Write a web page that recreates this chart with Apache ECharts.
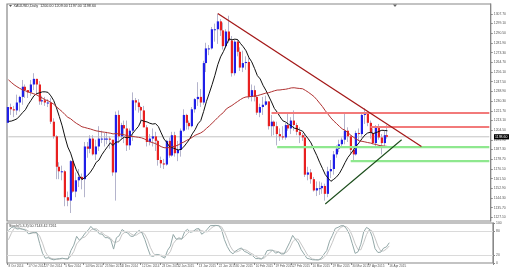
<!DOCTYPE html>
<html><head><meta charset="utf-8">
<script src="https://cdn.jsdelivr.net/npm/echarts@6/dist/echarts.min.js"></script>
<style>html,body{margin:0;padding:0;background:#fff}#c{width:509px;height:274px}</style>
</head><body><div id="c"></div>
<script>
// ---------- DATA ----------
const symbolTitle = 'XAUUSD,Daily';
const stochTitle = 'Stoch(5,3,3)';
const dates = [
'8 Oct 2014','9 Oct 2014','10 Oct 2014','13 Oct 2014','14 Oct 2014','15 Oct 2014','16 Oct 2014','17 Oct 2014','20 Oct 2014','21 Oct 2014','22 Oct 2014','23 Oct 2014','24 Oct 2014','27 Oct 2014','28 Oct 2014','29 Oct 2014','30 Oct 2014','31 Oct 2014',
'3 Nov 2014','4 Nov 2014','5 Nov 2014','6 Nov 2014','7 Nov 2014','10 Nov 2014','11 Nov 2014','12 Nov 2014','13 Nov 2014','14 Nov 2014','17 Nov 2014','18 Nov 2014','19 Nov 2014','20 Nov 2014','21 Nov 2014','24 Nov 2014','25 Nov 2014','26 Nov 2014','27 Nov 2014','28 Nov 2014',
'1 Dec 2014','2 Dec 2014','3 Dec 2014','4 Dec 2014','5 Dec 2014','8 Dec 2014','9 Dec 2014','10 Dec 2014','11 Dec 2014','12 Dec 2014','15 Dec 2014','16 Dec 2014','17 Dec 2014','18 Dec 2014','19 Dec 2014','22 Dec 2014','23 Dec 2014','24 Dec 2014','26 Dec 2014','29 Dec 2014','30 Dec 2014','31 Dec 2014',
'2 Jan 2015','5 Jan 2015','6 Jan 2015','7 Jan 2015','8 Jan 2015','9 Jan 2015','12 Jan 2015','13 Jan 2015','14 Jan 2015','15 Jan 2015','16 Jan 2015','19 Jan 2015','20 Jan 2015','21 Jan 2015','22 Jan 2015','23 Jan 2015','26 Jan 2015','27 Jan 2015','28 Jan 2015','29 Jan 2015','30 Jan 2015',
'2 Feb 2015','3 Feb 2015','4 Feb 2015','5 Feb 2015','6 Feb 2015','9 Feb 2015','10 Feb 2015','11 Feb 2015','12 Feb 2015','13 Feb 2015','16 Feb 2015','17 Feb 2015','18 Feb 2015','19 Feb 2015','20 Feb 2015','23 Feb 2015','24 Feb 2015','25 Feb 2015','26 Feb 2015','27 Feb 2015',
'2 Mar 2015','3 Mar 2015','4 Mar 2015','5 Mar 2015','6 Mar 2015','9 Mar 2015','10 Mar 2015','11 Mar 2015','12 Mar 2015','13 Mar 2015','16 Mar 2015','17 Mar 2015','18 Mar 2015','19 Mar 2015','20 Mar 2015','23 Mar 2015','24 Mar 2015','25 Mar 2015','26 Mar 2015','27 Mar 2015','30 Mar 2015','31 Mar 2015',
'1 Apr 2015','2 Apr 2015','3 Apr 2015','6 Apr 2015','7 Apr 2015','8 Apr 2015','9 Apr 2015','10 Apr 2015','13 Apr 2015','14 Apr 2015','15 Apr 2015','16 Apr 2015'];
const futureBars = 36;
// [open, high, low, close]
const candles = [
[1211,1226,1206,1225],[1225,1228,1218,1223],[1223,1226,1216,1222],[1222,1236,1218,1229],[1229,1235,1221,1234],[1234,1249,1227,1243],[1243,1245,1233,1240],[1240,1240,1233,1238],[1238,1249,1235,1245],[1245,1255,1240,1250],[1250,1250,1236,1245],[1245,1248,1227,1230],[1230,1235,1227,1231],[1231,1234,1226,1229],[1229,1232,1225,1229],[1229,1233,1210,1212],[1212,1215,1197,1199],[1199,1200,1161,1172],
[1172,1176,1161,1168],[1168,1173,1160,1168],[1168,1169,1137,1145],[1145,1150,1137,1142],[1142,1178,1131,1177],[1177,1178,1149,1150],[1150,1167,1145,1160],[1160,1170,1154,1163],[1163,1166,1152,1161],[1161,1194,1145,1190],[1190,1194,1180,1188],[1188,1200,1184,1197],[1197,1200,1182,1183],[1183,1196,1178,1190],[1190,1208,1186,1197],[1197,1204,1193,1197],[1197,1202,1190,1197],[1197,1203,1192,1197],[1197,1199,1188,1196],[1196,1196,1164,1167],
[1167,1221,1142,1218],[1218,1222,1193,1199],[1199,1211,1196,1209],[1209,1213,1193,1206],[1206,1213,1186,1191],[1191,1206,1187,1204],[1204,1238,1195,1231],[1231,1233,1222,1229],[1229,1232,1220,1225],[1225,1226,1210,1222],[1222,1226,1207,1207],[1207,1209,1190,1194],[1194,1201,1191,1197],[1197,1206,1190,1199],[1199,1203,1186,1195],[1195,1196,1173,1178],[1178,1181,1171,1175],[1175,1179,1170,1174],[1174,1196,1173,1195],[1195,1198,1180,1182],[1182,1203,1181,1200],[1200,1203,1181,1184],
[1184,1195,1177,1187],[1187,1206,1181,1204],[1204,1223,1203,1218],[1218,1219,1205,1211],[1211,1213,1205,1208],[1208,1225,1207,1223],[1223,1233,1220,1232],[1232,1247,1226,1234],[1234,1241,1225,1229],[1229,1266,1227,1264],[1264,1282,1256,1277],[1277,1280,1271,1277],[1277,1296,1276,1294],[1294,1299,1283,1294],[1294,1307.5,1281,1301],[1301,1303,1288,1293],[1293,1300,1276,1279],[1279,1294,1277,1292],[1292,1306,1282,1284],[1284,1288,1252,1255],[1255,1285,1253,1283],
[1283,1285,1270,1274],[1274,1278,1257,1260],[1260,1275,1256,1264],[1264,1270,1258,1265],[1265,1269,1232,1234],[1234,1245,1230,1240],[1240,1244,1230,1234],[1234,1235,1218,1220],[1220,1228,1216,1225],[1225,1234,1218,1227],[1227,1235,1226,1230],[1230,1230,1205,1208],[1208,1218,1199,1212],[1212,1213,1200,1208],[1208,1212,1191,1201],[1201,1206,1195,1199],[1199,1208,1196,1198],[1198,1211,1196,1209],[1209,1219,1204,1206],[1206,1216,1201,1213],
[1213,1222,1204,1209],[1209,1211,1200,1203],[1203,1207,1193,1200],[1200,1202,1195,1198],[1198,1201,1163,1165],[1165,1172,1160,1167],[1167,1170,1157,1161],[1161,1163,1150,1151],[1151,1159,1146,1153],[1153,1159,1147,1153],[1153,1158,1148,1155],[1155,1157,1142,1148],[1148,1172,1145,1168],[1168,1178,1162,1170],[1170,1186,1165,1183],[1183,1191,1180,1188],[1188,1196,1185,1192],[1192,1198,1190,1196],[1196,1219,1192,1204],[1204,1207,1194,1199],[1199,1200,1183,1187],[1187,1189,1178,1183],
[1183,1204,1182,1202],[1202,1206,1195,1201],[1201,1220,1198,1218],[1218,1224,1210,1219],[1219,1220,1208,1211],[1211,1213,1197,1202],[1202,1206,1192,1193],[1193,1209,1190,1207],[1207,1210,1196,1198],[1198,1201,1183,1193],[1193,1204,1190,1200],[1200,1209,1197,1198.6]];
// bars before the visible window (needed for the indicators' warm-up)
const preCandles = [
[1222,1224,1214,1217],[1217,1226,1213,1221],[1221,1222,1210,1213],[1213,1221,1212,1218],[1218,1219,1204,1208],[1208,1219,1206,1214],[1214,1218,1208,1214],[1214,1215,1190,1192],[1192,1209,1184,1207],[1207,1214,1204,1211]];
const preCloses = [1303,1299,1294,1282,1294,1288,1285,1307,1312,1310,1309,1309,1314,1314,1305,1298,1295,1293,1276,1279,1277,1284,1283,1290,1286,1287,1265,1270,1262,1268,1253,1251,1250,1238,1230,1235,1235,1222,1226,1215,1217,1222];
const maFastPeriod = 10, maSlowPeriod = 40;
const stochK = 5, stochD = 3, stochSlow = 3;
const bidPrice = 1198.6;
// drawn objects: [startBar, price, endBar, price]
const resistanceLines = [[93,1219.7,170,1219.7],[128,1207.3,170,1207.3]];
const supportLines = [[95,1189.5,170,1189.5],[121,1177.1,170,1177.1]];
const downTrend = [[74,1308],[146,1190]];
const upTrend = [[112,1139],[139,1196]];
// axis ticks
const priceTicks = [1307.70,1299.10,1290.50,1281.90,1273.30,1264.70,1256.10,1247.50,1238.90,1230.30,1221.70,1213.10,1204.50,1195.90,1187.30,1178.70,1170.10,1161.50,1152.90,1144.30,1135.70,1127.10];
const stochTicks = [0,20,80,100];
const xTickDates = ['8 Oct 2014','17 Oct 2014','27 Oct 2014','5 Nov 2014','14 Nov 2014','25 Nov 2014','3 Dec 2014','12 Dec 2014','23 Dec 2014','2 Jan 2015','13 Jan 2015','22 Jan 2015','30 Jan 2015','10 Feb 2015','19 Feb 2015','27 Feb 2015','10 Mar 2015','19 Mar 2015','30 Mar 2015','7 Apr 2015','16 Apr 2015'];

// ---------- INDICATORS ----------
const categories = dates.concat(new Array(futureBars).fill(''));
const nCat = categories.length;
const allCloses = preCloses.concat(preCandles.map(d=>d[3]), candles.map(d=>d[3]));
const off = preCloses.length + preCandles.length;
function sma(period){
  return candles.map((_,i)=>{let s=0;for(let k=0;k<period;k++) s+=allCloses[off+i-k];return +(s/period).toFixed(2);});
}
const maFast = sma(maFastPeriod), maSlow = sma(maSlowPeriod);
const bars = preCandles.concat(candles);
const raw = bars.map((b,j)=>{ if(j<stochK-1) return null; let hh=-1e9,ll=1e9; for(let k=0;k<stochK;k++){hh=Math.max(hh,bars[j-k][1]);ll=Math.min(ll,bars[j-k][2]);} return [b[3]-ll,hh-ll];});
const mainAll = bars.map((b,j)=>{ if(j<stochK-1+stochSlow-1) return null; let n=0,d=0; for(let k=0;k<stochSlow;k++){n+=raw[j-k][0];d+=raw[j-k][1];} return d?100*n/d:100;});
const sigAll = mainAll.map((v,j)=>{ if(j<stochK-1+stochSlow-1+stochD-1) return null; let s=0; for(let k=0;k<stochD;k++) s+=mainAll[j-k]; return s/stochD;});
const stMain = mainAll.slice(preCandles.length).map(v=>+v.toFixed(4));
const stSig = sigAll.slice(preCandles.length).map(v=>+v.toFixed(4));

// ---------- CHART ----------
const FONT = 'Liberation Sans';
const chart = echarts.init(document.getElementById('c'), null, {renderer:'canvas'});
const upColor = '#1f1fe8', downColor = '#e82020', wickColor = '#b4b4cc';
function renderCandle(params, api){
  const i = api.value(0);
  const o = api.coord([i, api.value(1)]), h = api.coord([i, api.value(2)]), l = api.coord([i, api.value(3)]), c = api.coord([i, api.value(4)]);
  const x = Math.round(o[0]);
  const up = api.value(4) >= api.value(1);
  const top = Math.min(o[1], c[1]), bot = Math.max(o[1], c[1]);
  return {type:'group', children:[
    {type:'line', shape:{x1:x-0.5,y1:h[1],x2:x-0.5,y2:l[1]}, style:{stroke:wickColor,lineWidth:1}},
    {type:'rect', shape:{x:x-1.2,y:top,width:2.2,height:Math.max(bot-top,1)}, style:{fill:up?upColor:downColor}}
  ]};
}
const tickSet = new Set(xTickDates);
function segSeries(name, pts, color, width, z){
  return {name, type:'line', xAxisIndex:0, yAxisIndex:0, data:pts, symbol:'none', silent:true, animation:false, z:z||3,
          lineStyle:{color, width}};
}
const series = [
  segSeries('bid', [[0,bidPrice],[nCat-1,bidPrice]], '#c4c4c4', 1, 1),
  {name:'price', type:'custom', xAxisIndex:0, yAxisIndex:0, renderItem:renderCandle,
   data:candles.map((d,i)=>[i,d[0],d[1],d[2],d[3]]), encode:{x:0,y:[1,2,3,4]}, z:2, animation:false},
  {name:'MA'+maFastPeriod, type:'line', xAxisIndex:0, yAxisIndex:0, data:maFast, symbol:'none', lineStyle:{color:'#111',width:1}, z:4, animation:false},
  {name:'MA'+maSlowPeriod, type:'line', xAxisIndex:0, yAxisIndex:0, data:maSlow, symbol:'none', lineStyle:{color:'#b03232',width:1}, z:4, animation:false},
];
resistanceLines.forEach((r,k)=>series.push(segSeries('res'+k, [[r[0],r[1]],[r[2],r[3]]], '#f27a7a', 2.2, 5)));
supportLines.forEach((r,k)=>series.push(segSeries('sup'+k, [[r[0],r[1]],[r[2],r[3]]], '#8fe88f', 2.2, 5)));
series.push(segSeries('downTrend', downTrend, '#a41818', 1.3, 6));
series.push(segSeries('upTrend', upTrend, '#1b4d1b', 1.1, 6));
series.push({name:'stochMain', type:'line', xAxisIndex:1, yAxisIndex:1, data:stMain, symbol:'none', lineStyle:{color:'#93a8a8',width:1}, z:4, animation:false,
  markLine:{silent:true, symbol:'none', label:{show:false}, lineStyle:{color:'#dadada',width:1,type:'solid'}, data:[{yAxis:20},{yAxis:80}], animation:false}});
series.push({name:'stochSignal', type:'line', xAxisIndex:1, yAxisIndex:1, data:stSig, symbol:'none', lineStyle:{color:'#c6c6c6',width:1}, z:3, animation:false});

const last = candles[candles.length-1];
const option = {
  animation:false,
  backgroundColor:'#ffffff',
  textStyle:{fontFamily:FONT},
  grid:[
    {left:7, top:4, width:486, height:217, show:true, borderColor:'#888', borderWidth:1.2, backgroundColor:'#fff'},
    {left:7, top:223, width:486, height:40, show:true, borderColor:'#888', borderWidth:1.2, backgroundColor:'#fff'}
  ],
  xAxis:[
    {type:'category', gridIndex:0, data:categories, boundaryGap:true, axisLine:{show:false}, axisTick:{show:false}, axisLabel:{show:false}, splitLine:{show:false}},
    {type:'category', gridIndex:1, data:categories, boundaryGap:true, axisLine:{show:false},
     axisTick:{show:true, length:2, lineStyle:{color:'#888'}, interval:(i,v)=>tickSet.has(v)},
     axisLabel:{show:true, interval:(i,v)=>tickSet.has(v), fontSize:3.1, color:'#555', align:'left', margin:2, fontFamily:FONT}}
  ],
  yAxis:[
    {type:'value', gridIndex:0, position:'right', min:1123.9, max:1316.4, scale:true,
     axisLine:{show:true, lineStyle:{color:'#888'}}, axisTick:{show:true, length:2, customValues:priceTicks, lineStyle:{color:'#888'}},
     axisLabel:{show:true, customValues:priceTicks, formatter:v=>v.toFixed(2), fontSize:3.4, color:'#555', margin:3, fontFamily:FONT},
     splitLine:{show:false}},
    {type:'value', gridIndex:1, position:'right', min:0, max:100,
     axisLine:{show:true, lineStyle:{color:'#888'}}, axisTick:{show:true, length:2, customValues:stochTicks, lineStyle:{color:'#888'}},
     axisLabel:{show:true, customValues:stochTicks, fontSize:3.4, color:'#555', margin:3, fontFamily:FONT},
     splitLine:{show:false}}
  ],
  graphic:[
    {type:'polygon', shape:{points:[[9,5],[12,5],[10.5,7]]}, style:{fill:'#555'}},
    {type:'text', x:13.5, y:4.3, style:{text:symbolTitle+'  '+last.map(v=>v.toFixed(2)).join(' '), fontSize:3.7, fill:'#333', fontFamily:FONT}},
    {type:'text', x:9, y:223.8, style:{text:stochTitle+' '+stMain[stMain.length-1].toFixed(4)+' '+stSig[stSig.length-1].toFixed(4), fontSize:3.6, fill:'#333', fontFamily:FONT}},
    {type:'polygon', shape:{points:[[393,4.5],[397,4.5],[395,7]]}, style:{fill:'#666'}}
  ],
  series
};
chart.setOption(option);
const yb = chart.convertToPixel({yAxisIndex:0}, bidPrice);
chart.setOption({graphic:option.graphic.concat([
  {type:'rect', shape:{x:494, y:yb-2.6, width:15, height:5.2}, style:{fill:'#000'}, z:100},
  {type:'text', x:495, y:yb-1.9, style:{text:bidPrice.toFixed(2), fill:'#fff', fontSize:3.5, fontFamily:FONT}, z:101}
])});
</script></body></html>
